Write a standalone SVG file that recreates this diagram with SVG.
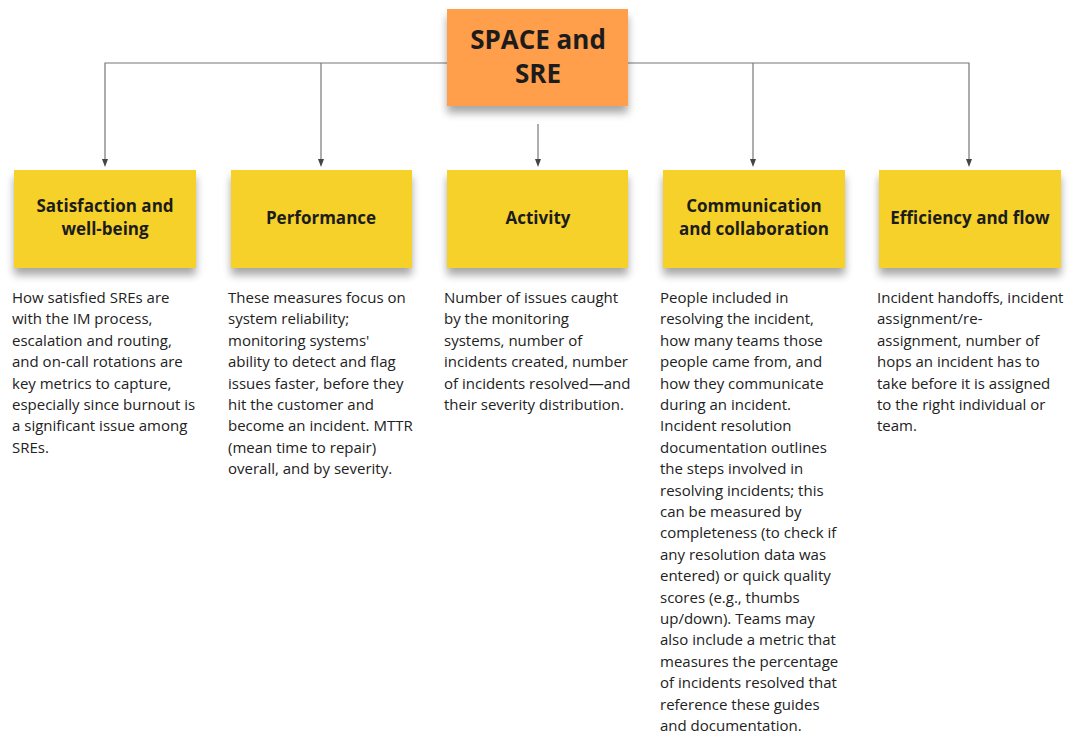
<svg xmlns="http://www.w3.org/2000/svg" width="1080" height="749" viewBox="0 0 1080 749">
<defs>
<filter id="sh" x="-20%" y="-20%" width="140%" height="160%">
<feGaussianBlur in="SourceAlpha" stdDeviation="4"/>
<feOffset dx="0" dy="7" result="b"/>
<feComponentTransfer><feFuncA type="linear" slope="0.35"/></feComponentTransfer>
<feMerge><feMergeNode/><feMergeNode in="SourceGraphic"/></feMerge>
</filter>
<marker id="ah" markerWidth="8" markerHeight="8" refX="4" refY="4" orient="auto" markerUnits="userSpaceOnUse">
<path d="M0,1 L8,4 L0,7 Z" fill="#444"/>
</marker>
</defs>
<style>
.conn{fill:none;stroke:#777;stroke-width:1.2}
.y{fill:#F5D12C}
.o{fill:#FF9E4C}
.t{font-family:"Open Sans","Liberation Sans",sans-serif;font-weight:bold;font-size:17px;fill:#1c1c1c;text-anchor:middle}
.big{font-family:"Open Sans","Liberation Sans",sans-serif;font-weight:bold;font-size:26px;fill:#1c1c1c;text-anchor:middle}
.b{font-family:"Open Sans","Liberation Sans",sans-serif;font-size:15px;fill:#222}
</style>
<rect width="1080" height="749" fill="#fff"/>
<g id="connectors">
<path class="conn" d="M447,63 H105 V163" marker-end="url(#ah)"/>
<path class="conn" d="M321,63 V163" marker-end="url(#ah)"/>
<path class="conn" d="M538,124 V163" marker-end="url(#ah)"/>
<path class="conn" d="M628,63 H969 V163" marker-end="url(#ah)"/>
<path class="conn" d="M753,63 V163" marker-end="url(#ah)"/>
</g>
<g id="root">
<rect class="o" x="447" y="9" width="181" height="97" filter="url(#sh)"/>
<text class="big" x="538" y="49">SPACE and</text>
<text class="big" x="538" y="83">SRE</text>
</g>
<g id="n1">
<rect class="y" x="14" y="170" width="182" height="98" filter="url(#sh)"/>
<text class="t" x="105" y="212">Satisfaction and</text>
<text class="t" x="105" y="235">well-being</text>
<text class="b" x="12"><tspan x="12" y="303">How satisfied SREs are</tspan><tspan x="12" dy="21.4">with the IM process,</tspan><tspan x="12" dy="21.4">escalation and routing,</tspan><tspan x="12" dy="21.4">and on-call rotations are</tspan><tspan x="12" dy="21.4">key metrics to capture,</tspan><tspan x="12" dy="21.4">especially since burnout is</tspan><tspan x="12" dy="21.4">a significant issue among</tspan><tspan x="12" dy="21.4">SREs.</tspan></text>
</g>
<g id="n2">
<rect class="y" x="231" y="170" width="181" height="98" filter="url(#sh)"/>
<text class="t" x="321" y="224">Performance</text>
<text class="b"><tspan x="228" y="303">These measures focus on</tspan><tspan x="228" dy="21.4">system reliability;</tspan><tspan x="228" dy="21.4">monitoring systems'</tspan><tspan x="228" dy="21.4">ability to detect and flag</tspan><tspan x="228" dy="21.4">issues faster, before they</tspan><tspan x="228" dy="21.4">hit the customer and</tspan><tspan x="228" dy="21.4">become an incident. MTTR</tspan><tspan x="228" dy="21.4">(mean time to repair)</tspan><tspan x="228" dy="21.4">overall, and by severity.</tspan></text>
</g>
<g id="n3">
<rect class="y" x="447" y="170" width="181" height="98" filter="url(#sh)"/>
<text class="t" x="538" y="224">Activity</text>
<text class="b"><tspan x="444" y="303">Number of issues caught</tspan><tspan x="444" dy="21.4">by the monitoring</tspan><tspan x="444" dy="21.4">systems, number of</tspan><tspan x="444" dy="21.4">incidents created, number</tspan><tspan x="444" dy="21.4">of incidents resolved—and</tspan><tspan x="444" dy="21.4">their severity distribution.</tspan></text>
</g>
<g id="n4">
<rect class="y" x="663" y="170" width="182" height="98" filter="url(#sh)"/>
<text class="t" x="754" y="212">Communication</text>
<text class="t" x="754" y="235">and collaboration</text>
<text class="b"><tspan x="660" y="303">People included in</tspan><tspan x="660" dy="21.4">resolving the incident,</tspan><tspan x="660" dy="21.4">how many teams those</tspan><tspan x="660" dy="21.4">people came from, and</tspan><tspan x="660" dy="21.4">how they communicate</tspan><tspan x="660" dy="21.4">during an incident.</tspan><tspan x="660" dy="21.4">Incident resolution</tspan><tspan x="660" dy="21.4">documentation outlines</tspan><tspan x="660" dy="21.4">the steps involved in</tspan><tspan x="660" dy="21.4">resolving incidents; this</tspan><tspan x="660" dy="21.4">can be measured by</tspan><tspan x="660" dy="21.4">completeness (to check if</tspan><tspan x="660" dy="21.4">any resolution data was</tspan><tspan x="660" dy="21.4">entered) or quick quality</tspan><tspan x="660" dy="21.4">scores (e.g., thumbs</tspan><tspan x="660" dy="21.4">up/down). Teams may</tspan><tspan x="660" dy="21.4">also include a metric that</tspan><tspan x="660" dy="21.4">measures the percentage</tspan><tspan x="660" dy="21.4">of incidents resolved that</tspan><tspan x="660" dy="21.4">reference these guides</tspan><tspan x="660" dy="21.4">and documentation.</tspan></text>
</g>
<g id="n5">
<rect class="y" x="879" y="170" width="182" height="98" filter="url(#sh)"/>
<text class="t" x="970" y="224">Efficiency and flow</text>
<text class="b"><tspan x="877" y="303">Incident handoffs, incident</tspan><tspan x="877" dy="21.4">assignment/re-</tspan><tspan x="877" dy="21.4">assignment, number of</tspan><tspan x="877" dy="21.4">hops an incident has to</tspan><tspan x="877" dy="21.4">take before it is assigned</tspan><tspan x="877" dy="21.4">to the right individual or</tspan><tspan x="877" dy="21.4">team.</tspan></text>
</g>
</svg>
